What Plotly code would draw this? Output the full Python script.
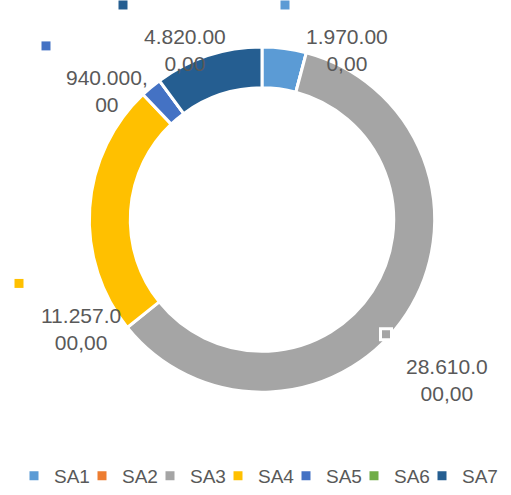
import plotly.graph_objects as go

categories = ["SA1", "SA2", "SA3", "SA4", "SA5", "SA6", "SA7"]
values = [1970000, 0, 28610000, 11257000, 940000, 0, 4820000]
colors = ["#5B9BD5", "#ED7D31", "#A5A5A5", "#FFC000", "#4472C4", "#70AD47", "#255E91"]

# where Excel left the data labels (pixel centres) and their little key squares
label_pos = {"SA1": (347, 50), "SA3": (447, 381), "SA4": (81, 330), "SA5": (107, 91), "SA7": (185, 50)}
key_pos = {"SA1": (285, 5), "SA3": (386, 335), "SA4": (19, 284), "SA5": (46, 46), "SA7": (123, 5)}

W, H = 511, 495
TEXT = "#595959"


def px(x):
    return x / W


def py(y):
    return 1 - y / H


def euro(v):
    s = f"{v:,.2f}".replace(",", "X").replace(".", ",").replace("X", ".")
    return s[:8] + "<br>" + s[8:]


fig = go.Figure(go.Pie(
    labels=categories,
    values=values,
    marker=dict(colors=colors, line=dict(color="white", width=3)),
    hole=0.763,
    sort=False,
    direction="clockwise",
    rotation=0,
    textinfo="none",
    domain=dict(x=[px(89), px(435)], y=[py(393), py(47)]),
))

annotations = []
shapes = []
for cat, val, col in zip(categories, values, colors):
    if cat not in label_pos:
        continue
    lx, ly = label_pos[cat]
    annotations.append(dict(
        x=px(lx), y=py(ly), xref="paper", yref="paper",
        text=euro(val), showarrow=False, xanchor="center", yanchor="middle",
        font=dict(size=21, color=TEXT),
    ))
    kx, ky = key_pos[cat]
    big = cat == "SA3"
    h = 5.5 if big else 4.5
    shapes.append(dict(
        type="rect", xref="paper", yref="paper",
        x0=px(kx - h), x1=px(kx + h), y0=py(ky + h), y1=py(ky - h),
        fillcolor=col, line=dict(color="white", width=3 if big else 0),
    ))

fig.update_layout(
    width=W, height=H,
    margin=dict(l=0, r=0, t=0, b=0),
    paper_bgcolor="white",
    font=dict(family="Liberation Sans, Arial, sans-serif", color=TEXT),
    showlegend=True,
    legend=dict(
        orientation="h", x=px(266), xanchor="center", y=py(477), yanchor="middle",
        font=dict(size=19, color=TEXT), itemwidth=30, traceorder="normal",
        entrywidth=37, entrywidthmode="pixels", indentation=-14,
    ),
    annotations=annotations,
    shapes=shapes,
)

# drop the browser's default 8px body margin so the figure fills the window
fig.write_html("out.html", config={"displayModeBar": False},
               post_script="document.body.style.margin='0';")
